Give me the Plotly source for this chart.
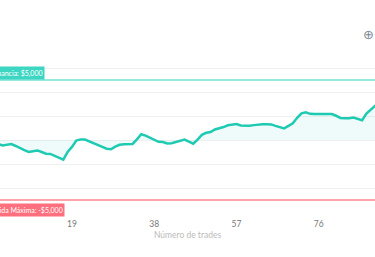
import plotly.graph_objects as go

trades = list(range(0, 96))
balance = [
    0, -200, -350, -450, -420, -340, -500, -700, -850, -1000,
    -950, -870, -1000, -1140, -1160, -1320, -1480, -1640, -1000, -575,
    -50, 50, 40, -100, -280, -430, -580, -730, -770, -550,
    -400, -350, -330, -330, 56, 480, 360, 200, 35, -150,
    -170, -290, -265, -180, -60, 30, -145, -310, 30, 430,
    600, 670, 880, 950, 1080, 1230, 1310, 1330, 1210, 1190,
    1190, 1240, 1300, 1308, 1308, 1300, 1180, 1100, 970, 1180,
    1390, 1850, 2225, 2300, 2180, 2167, 2167, 2167, 2167, 2167,
    2020, 1840, 1808, 1808, 1880, 1780, 1650, 2200, 2550, 2860,
    3200, 3500, 3700, 3600, 3900, 4100,
]
max_gain = 5000
max_loss = -5000
gain_label = "Meta de Ganancia: $5,000"
loss_label = "Pérdida Máxima: -$5,000"
x_ticks = [19, 38, 57, 76]
x_title = "Número de trades"

fig = go.Figure()
fig.add_trace(go.Scatter(
    x=trades, y=balance, mode="lines",
    line=dict(color="#1ecab2", width=2.5, shape="linear"),
    fill="tozeroy", fillcolor="rgba(30,202,178,0.07)",
    hoverinfo="skip", showlegend=False,
))

fig.add_shape(type="line", xref="paper", x0=0, x1=1, yref="y", y0=max_gain, y1=max_gain,
              line=dict(color="#72e3d5", width=1.6))
fig.add_shape(type="line", xref="paper", x0=0, x1=1, yref="y", y0=max_loss, y1=max_loss,
              line=dict(color="#ff858f", width=1.6))

fig.add_annotation(xref="paper", x=45/375, xanchor="right", yref="y", y=5550, yanchor="middle",
                   text=gain_label, showarrow=False,
                   font=dict(family="Liberation Sans Narrow, Lato", size=7, color="white"),
                   bgcolor="#3dd6c3", borderpad=1.5)
fig.add_annotation(xref="paper", x=65/375, xanchor="right", yref="y", y=-5800, yanchor="middle",
                   text=loss_label, showarrow=False,
                   font=dict(family="Liberation Sans Narrow, Lato", size=7, color="white"),
                   bgcolor="#ff6f7d", borderpad=1.5)
fig.add_annotation(xref="paper", x=368/375, xanchor="center", yref="paper", y=1 + 10/168, yanchor="middle",
                   text="⊕", showarrow=False,
                   font=dict(family="DejaVu Sans", size=13, color="#7d8a97"))

fig.update_layout(
    width=375, height=257,
    margin=dict(l=0, r=0, t=44, b=45),
    paper_bgcolor="white", plot_bgcolor="white",
    font=dict(family="Lato", color="#888888"),
    xaxis=dict(range=[2.38, 88.98], tickvals=x_ticks, showgrid=False, zeroline=False,
               showline=False, ticks="outside", ticklen=4, tickcolor="rgba(0,0,0,0)",
               tickfont=dict(size=8.5, color="#777777"),
               title=dict(text=x_title, font=dict(size=8.5, color="#bbbbbb"), standoff=3)),
    yaxis=dict(range=[-6000, 8000], dtick=2000, showticklabels=False, showgrid=True,
               gridcolor="#f0f0f0", gridwidth=1, zeroline=False, showline=False),
)

fig.write_html("out.html")
